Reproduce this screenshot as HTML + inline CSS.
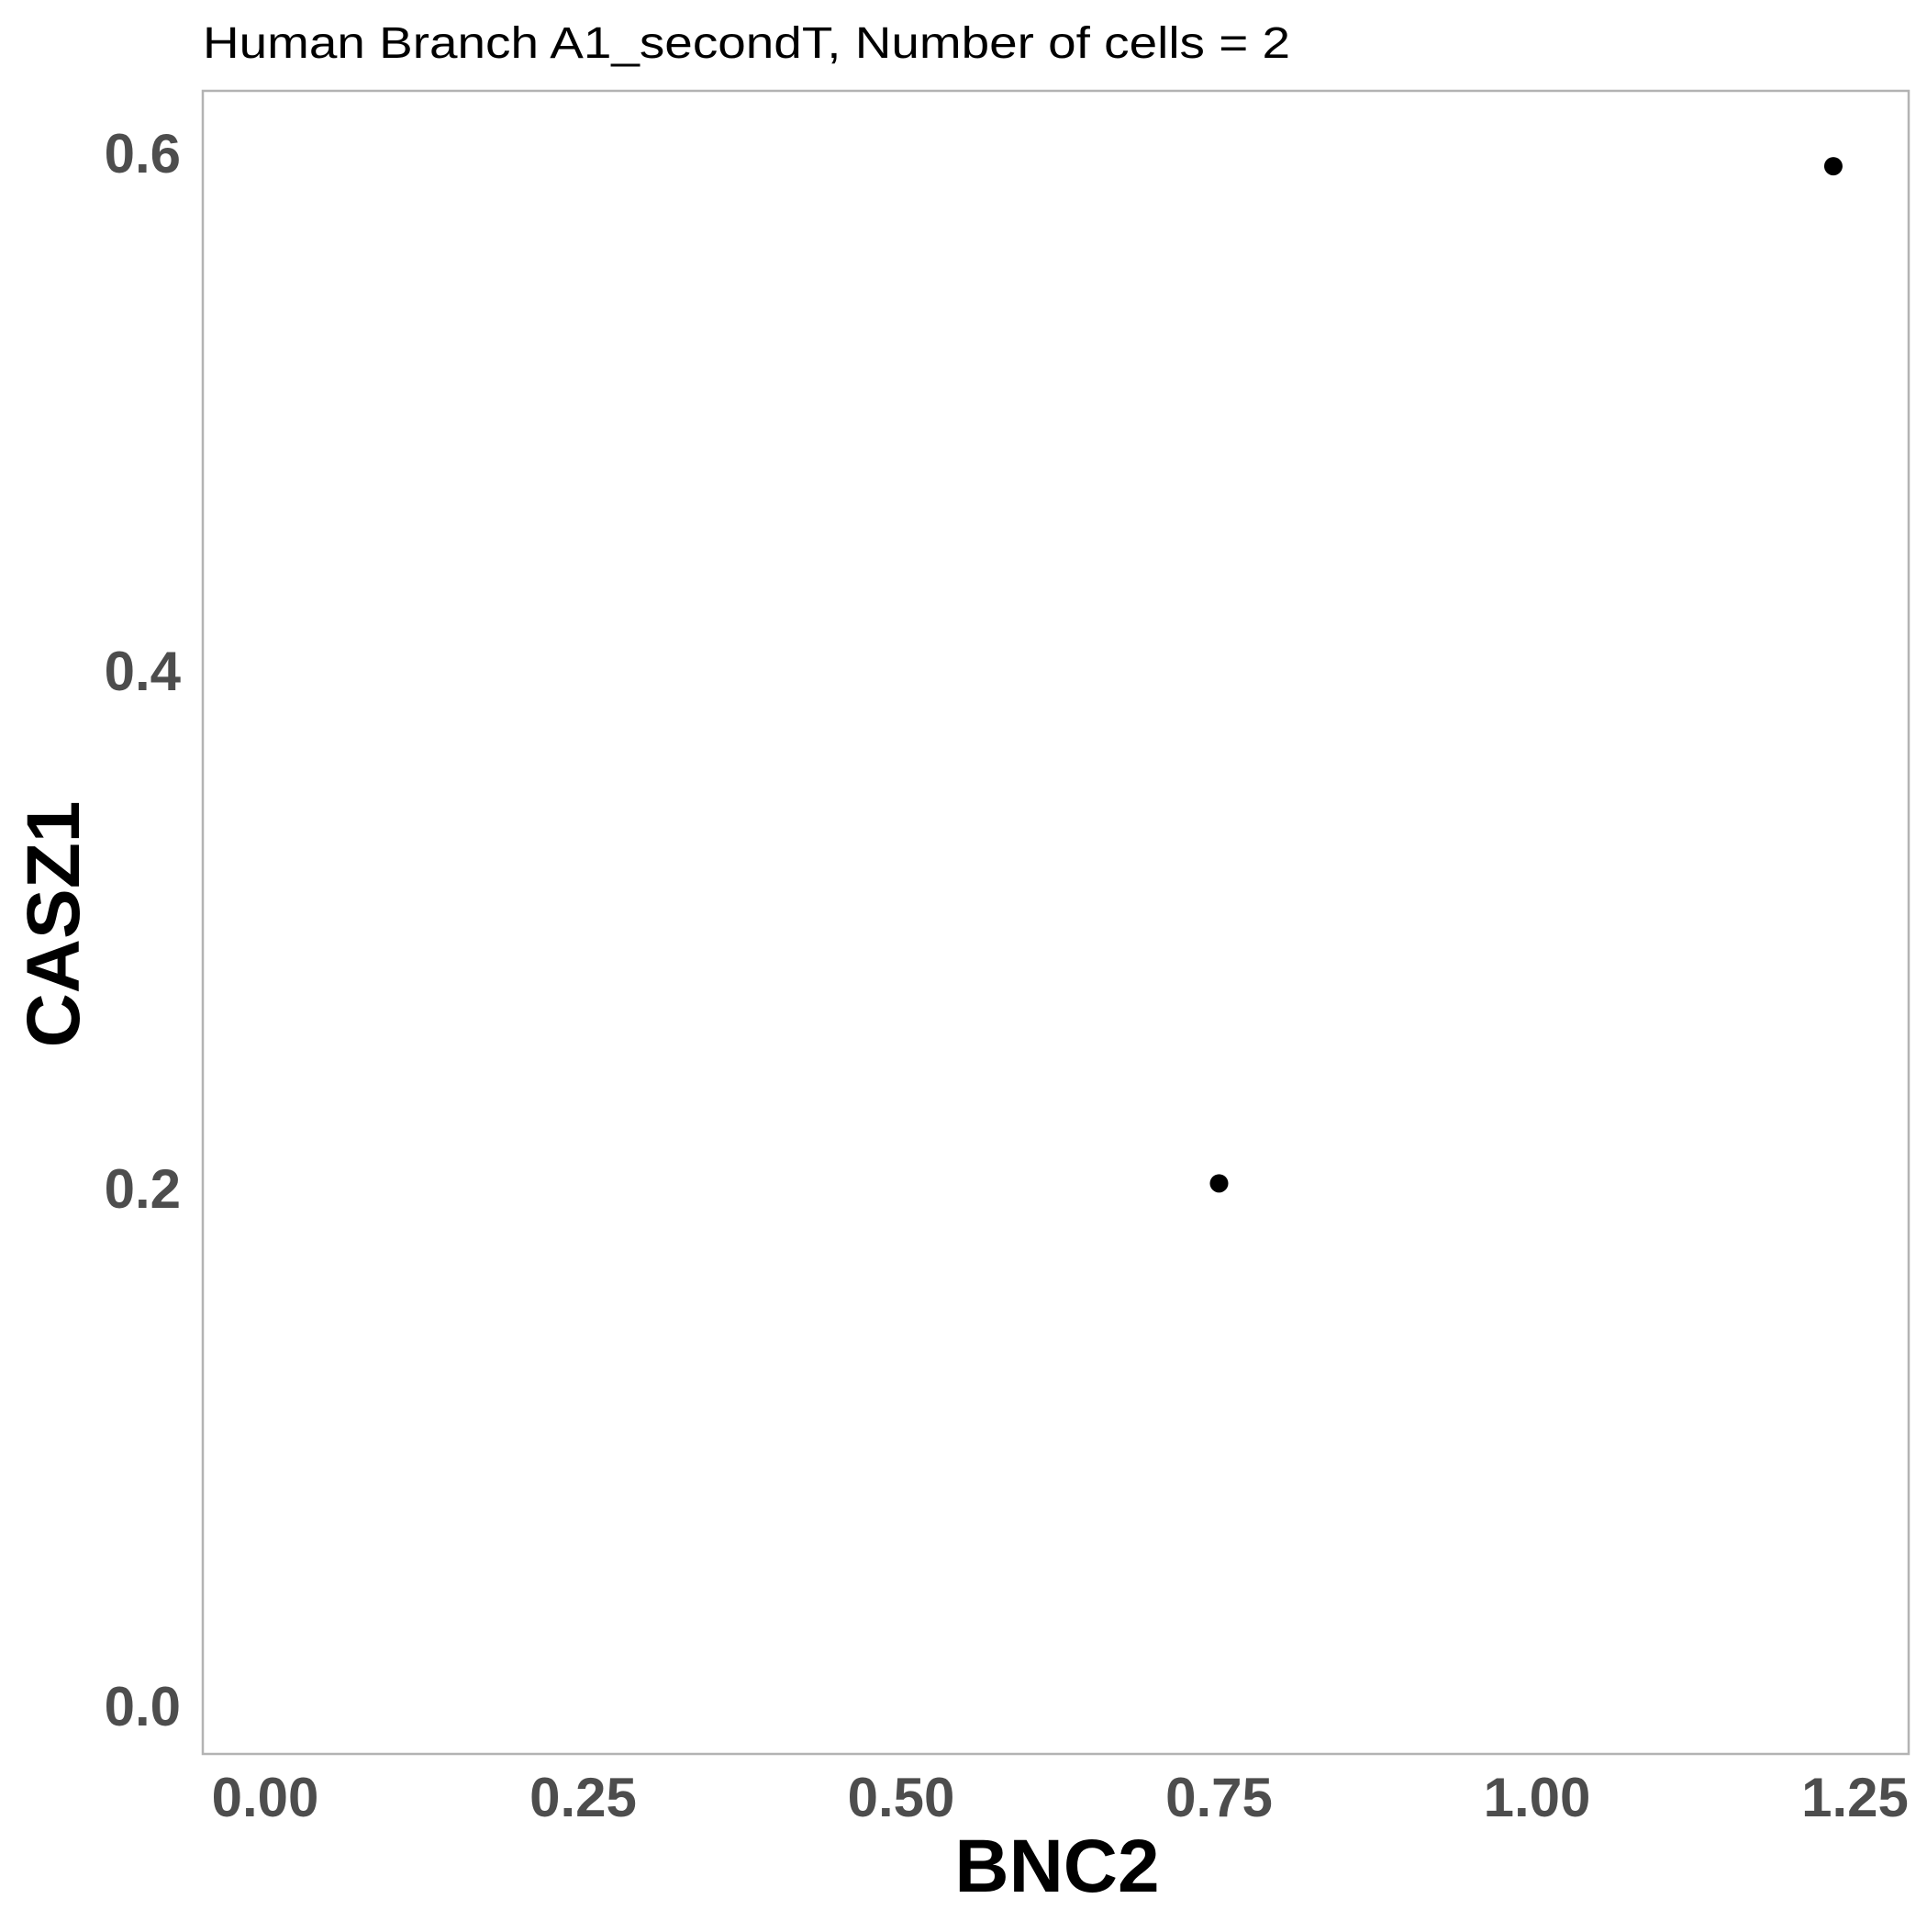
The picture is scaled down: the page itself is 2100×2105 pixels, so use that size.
<!DOCTYPE html>
<html><head><meta charset="utf-8"><style>html,body{margin:0;padding:0;background:#fff}</style></head>
<body>
<svg id="chart" width="2100" height="2100" xmlns="http://www.w3.org/2000/svg" font-family="Liberation Sans, sans-serif">
<rect width="2100" height="2100" fill="#fff"/>
<text x="221" y="63" font-size="48" fill="#000" textLength="1185" lengthAdjust="spacingAndGlyphs">Human Branch A1_secondT, Number of cells = 2</text>
<rect x="221" y="99" width="1859" height="1812" fill="none" stroke="#b3b3b3" stroke-width="2.5"/>
<g id="xticks"></g><g id="yticks"></g><g id="points"></g>
<text x="1152" y="2061" font-size="82" font-weight="bold" text-anchor="middle" fill="#000">BNC2</text>
<text transform="translate(86,1007) rotate(-90)" font-size="82" font-weight="bold" text-anchor="middle" fill="#000">CASZ1</text>
</svg>
<script>
const xTickValues = [0, 0.25, 0.5, 0.75, 1.0, 1.25];
const xTickLabels = ["0.00", "0.25", "0.50", "0.75", "1.00", "1.25"];
const yTickValues = [0, 0.2, 0.4, 0.6];
const yTickLabels = ["0.0", "0.2", "0.4", "0.6"];
const pointsX = [0.75, 1.233];
const pointsY = [0.202, 0.595];

const NS = "http://www.w3.org/2000/svg";
function xScale(v){ return 289 + v * 1386; }
function yScale(v){ return 1859 - v * 2820; }

const xg = document.getElementById('xticks');
xTickValues.forEach((v,i)=>{
  const t = document.createElementNS(NS,'text');
  t.setAttribute('x', xScale(v)); t.setAttribute('y', 1979);
  t.setAttribute('font-size','60'); t.setAttribute('font-weight','bold');
  t.setAttribute('text-anchor','middle'); t.setAttribute('fill','#4d4d4d');
  t.textContent = xTickLabels[i];
  
  
  xg.appendChild(t);
});
const yg = document.getElementById('yticks');
yTickValues.forEach((v,i)=>{
  const t = document.createElementNS(NS,'text');
  t.setAttribute('x', 197); t.setAttribute('y', yScale(v) + 21);
  t.setAttribute('font-size','60'); t.setAttribute('font-weight','bold');
  t.setAttribute('text-anchor','end'); t.setAttribute('fill','#4d4d4d');
  t.textContent = yTickLabels[i];
  
  
  yg.appendChild(t);
});
const pg = document.getElementById('points');
pointsX.forEach((v,i)=>{
  const c = document.createElementNS(NS,'circle');
  c.setAttribute('cx', xScale(v)); c.setAttribute('cy', yScale(pointsY[i]));
  c.setAttribute('r', 10); c.setAttribute('fill','#000');
  
  
  pg.appendChild(c);
});
</script>
</body></html>
